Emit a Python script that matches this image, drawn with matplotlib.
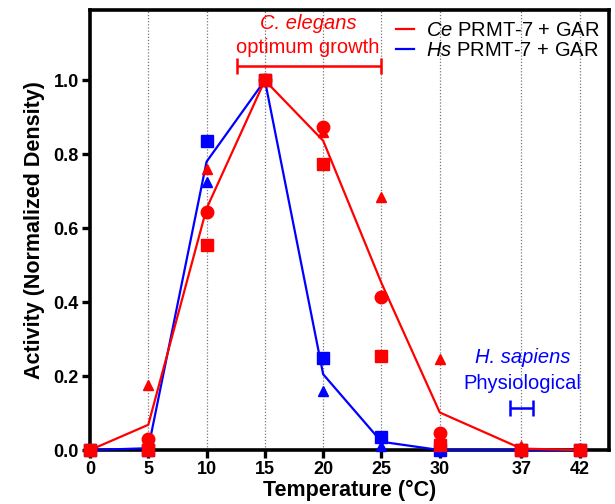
import numpy as np
import matplotlib.pyplot as plt

plt.rcParams['font.family'] = ['Liberation Sans', 'DejaVu Sans']
plt.rcParams['mathtext.fontset'] = 'custom'
plt.rcParams['mathtext.it'] = 'Liberation Sans:italic'
plt.rcParams['mathtext.rm'] = 'Liberation Sans'

temps = [0, 5, 10, 15, 20, 25, 30, 37, 42]

# C. elegans PRMT-7 replicates
ce_circle = [0.0, 0.03, 0.645, 1.0, 0.875, 0.415, 0.045, 0.0, 0.0]
ce_square = [0.0, 0.0, 0.555, 1.0, 0.775, 0.255, 0.015, 0.0, 0.0]
ce_triangle = [0.0, 0.175, 0.76, 1.0, 0.86, 0.685, 0.245, 0.012, 0.0]

# H. sapiens PRMT-7 replicates
hs_square = [0.0, 0.0, 0.835, 1.0, 0.25, 0.035, 0.0, 0.0, 0.0]
hs_triangle = [0.0, 0.01, 0.725, 1.0, 0.16, 0.01, 0.0, 0.0, 0.0]

red = '#ff0000'
blue = '#0000ff'

ce_mean = np.mean([ce_circle, ce_square, ce_triangle], axis=0)
hs_mean = np.mean([hs_square, hs_triangle], axis=0)

fig = plt.figure(figsize=(6.15, 5.04), dpi=100)
ax = fig.add_axes([0.1463, 0.107, 0.8437, 0.873])

ax.plot(temps, hs_mean, color=blue, lw=1.6, label=r'$\mathit{Hs}$ PRMT-7 + GAR', zorder=3, clip_on=False)
ax.plot(temps, ce_mean, color=red, lw=1.6, label=r'$\mathit{Ce}$ PRMT-7 + GAR', zorder=3, clip_on=False)

ms = 8
ax.plot(temps, hs_square, 's', color=blue, ms=ms, zorder=4, clip_on=False)
ax.plot(temps, hs_triangle, '^', color=blue, ms=ms - 1, zorder=4, clip_on=False)
ax.plot(temps, ce_square, 's', color=red, ms=ms, zorder=5, clip_on=False)
ax.plot(temps, ce_triangle, '^', color=red, ms=ms - 1, zorder=5, clip_on=False)
ax.plot(temps, ce_circle, 'o', color=red, ms=ms + 1, zorder=5, clip_on=False)

ax.set_xlim(0, 44.5)
ax.set_ylim(0, 1.19)
ax.set_xticks(temps)
ax.set_yticks([0, 0.2, 0.4, 0.6, 0.8, 1.0])
ax.set_yticklabels(['0.0', '0.2', '0.4', '0.6', '0.8', '1.0'])
ax.xaxis.grid(True, linestyle=(0, (1, 1.5)), color='#777777', lw=0.9)
ax.set_axisbelow(True)

for s in ax.spines.values():
    s.set_linewidth(2.6)
ax.tick_params(width=2.4, length=6, labelsize=13, pad=2)
for lab in ax.get_xticklabels() + ax.get_yticklabels():
    lab.set_fontweight('bold')

ax.set_xlabel('Temperature (°C)', fontsize=15.5, fontweight='bold', labelpad=1)
ax.set_ylabel('Activity (Normalized Density)', fontsize=15.5, fontweight='bold', labelpad=6)

# C. elegans optimum growth bracket
ax.text(18.7, 1.155, 'C. elegans', color=red, fontsize=14.5, style='italic', ha='center', va='center')
ax.text(18.7, 1.09, 'optimum growth', color=red, fontsize=14.5, ha='center', va='center')
ax.errorbar([18.8], [1.04], xerr=[[6.2]], color=red, lw=1.8, capsize=6, capthick=1.8)

# H. sapiens physiological bracket
ax.text(37.1, 0.25, 'H. sapiens', color=blue, fontsize=14.5, style='italic', ha='center', va='center')
ax.text(37.1, 0.18, 'Physiological', color=blue, fontsize=14.5, ha='center', va='center')
ax.errorbar([37.0], [0.113], xerr=[[1.0]], color=blue, lw=1.8, capsize=6, capthick=1.8)

handles, labels = ax.get_legend_handles_labels()
ax.legend(handles[::-1], labels[::-1], loc='upper right', frameon=False, fontsize=14.5,
          handlelength=0.9, handletextpad=0.6, labelspacing=0.05, borderaxespad=0.05,
          bbox_to_anchor=(1.0, 0.995))

fig.savefig('out.png', dpi=100)
